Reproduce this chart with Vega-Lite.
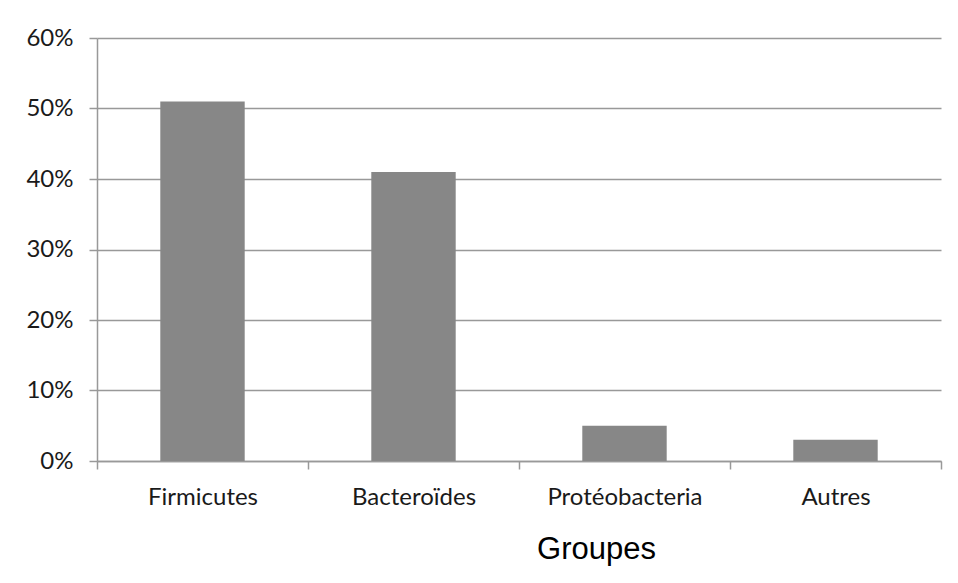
{
  "$schema": "https://vega.github.io/schema/vega-lite/v6.json",
  "autosize": {"type": "none"},
  "width": 844,
  "height": 423,
  "padding": {"left": 97, "top": 38, "right": 17, "bottom": 122},
  "background": "white",
  "data": {
    "values": [
      {"groupe": "Firmicutes", "part": 0.51},
      {"groupe": "Bacteroïdes", "part": 0.41},
      {"groupe": "Protéobacteria", "part": 0.05},
      {"groupe": "Autres", "part": 0.03}
    ]
  },
  "mark": {"type": "bar", "color": "#878787", "width": {"band": 0.4}},
  "encoding": {
    "x": {
      "field": "groupe",
      "type": "nominal",
      "sort": null,
      "scale": {"paddingInner": 0, "paddingOuter": 0},
      "axis": {
        "title": "Groupes",
        "titleFont": "Liberation Sans",
        "titleFontSize": 31,
        "titleFontWeight": "normal",
        "titleColor": "#000000",
        "titleX": 499,
        "titleY": 97,
        "titleAlign": "center",
        "titleBaseline": "alphabetic",
        "labelAngle": 0,
        "labelFont": "Lato",
        "labelFontSize": 24,
        "labelColor": "#1a1a1a",
        "labelPadding": 16,
        "tickBand": "extent",
        "tickSize": 8,
        "tickColor": "#999999",
        "domainColor": "#999999",
        "domainWidth": 1.5,
        "tickWidth": 1.5,
        "grid": false
      }
    },
    "y": {
      "field": "part",
      "type": "quantitative",
      "scale": {"domain": [0, 0.6], "nice": false},
      "axis": {
        "title": null,
        "values": [0, 0.1, 0.2, 0.3, 0.4, 0.5, 0.6],
        "format": ".0%",
        "labelFont": "Lato",
        "labelFontSize": 24,
        "labelColor": "#1a1a1a",
        "labelPadding": 16,
        "tickSize": 8,
        "tickColor": "#999999",
        "tickWidth": 1.5,
        "domainColor": "#999999",
        "domainWidth": 1.5,
        "grid": true,
        "gridColor": "#999999",
        "gridWidth": 1.5
      }
    }
  },
  "config": {"view": {"stroke": null}}
}
